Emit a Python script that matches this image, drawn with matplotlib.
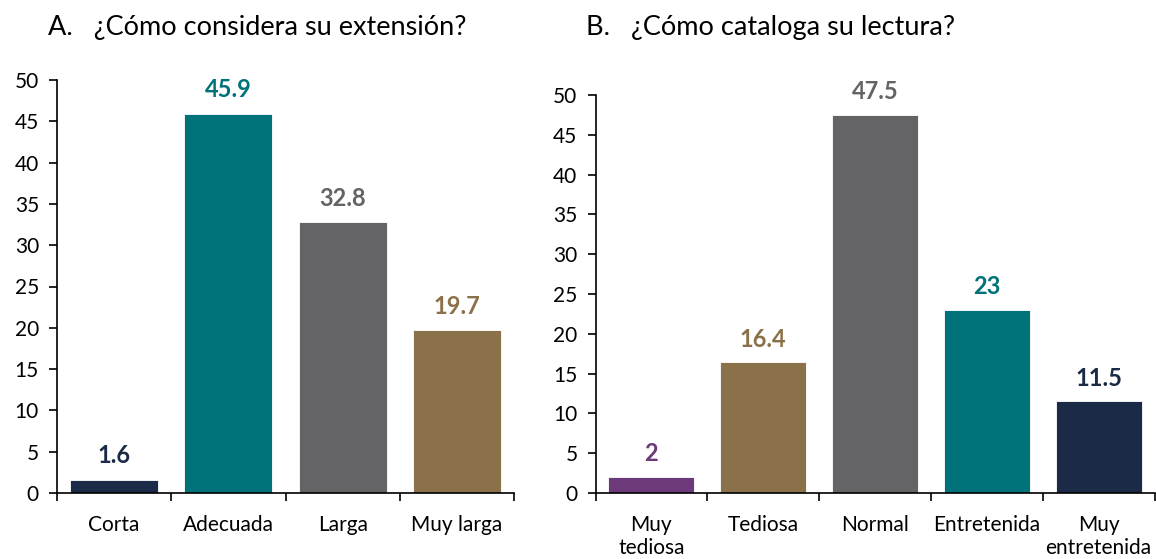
import matplotlib.pyplot as plt

plt.rcParams['font.family'] = ['Lato', 'DejaVu Sans']

# panel A
cats_a = ["Corta", "Adecuada", "Larga", "Muy larga"]
vals_a = [1.6, 45.9, 32.8, 19.7]
cols_a = ["#1B2A47", "#00727A", "#646466", "#8B7149"]

# panel B
cats_b = ["Muy\ntediosa", "Tediosa", "Normal", "Entretenida", "Muy\nentretenida"]
vals_b = [2, 16.4, 47.5, 23, 11.5]
labs_b = ["2", "16.4", "47.5", "23", "11.5"]
cols_b = ["#6C3A7A", "#8B7149", "#646466", "#00727A", "#1B2A47"]

yticks = list(range(0, 55, 5))


def panel(ax, cats, vals, labels, cols, title, title_x):
    n = len(cats)
    x = range(n)
    ax.bar(x, vals, width=0.77, color=cols, edgecolor="white", linewidth=0.6)
    for i, (v, lab, c) in enumerate(zip(vals, labels, cols)):
        ax.text(i, v + 1.5, lab, ha="center", va="bottom", color=c,
                fontsize=17, fontweight="bold")
    ax.set_xlim(-0.5, n - 0.5)
    ax.set_ylim(0, 50)
    ax.set_yticks(yticks)
    ax.set_xticks(range(n))
    ax.set_xticklabels(cats, fontsize=15, linespacing=1.15)
    ax.set_xticks([i - 0.5 for i in range(n + 1)], minor=True)
    ax.tick_params(axis="x", which="major", length=0, pad=16)
    ax.tick_params(axis="x", which="minor", length=6, width=1.2, direction="out")
    ax.tick_params(axis="y", labelsize=15, length=6, width=1.2, pad=7)
    for s in ["top", "right"]:
        ax.spines[s].set_visible(False)
    for s in ["left", "bottom"]:
        ax.spines[s].set_linewidth(1.2)
    fig.text(title_x, 0.95, title, fontsize=19.5, va="center", ha="left")


fig = plt.figure(figsize=(11.56, 5.59), dpi=100)
ax1 = fig.add_axes([57 / 1156, 66 / 559, 457 / 1156, 413 / 559])
ax2 = fig.add_axes([595.5 / 1156, 66 / 559, 559 / 1156, 398 / 559])

panel(ax1, cats_a, vals_a, [str(v) for v in vals_a], cols_a,
      "A.   ¿Cómo considera su extensión?", 48 / 1156)
panel(ax2, cats_b, vals_b, labs_b, cols_b,
      "B.   ¿Cómo cataloga su lectura?", 586 / 1156)

fig.savefig("out.png", dpi=100)
